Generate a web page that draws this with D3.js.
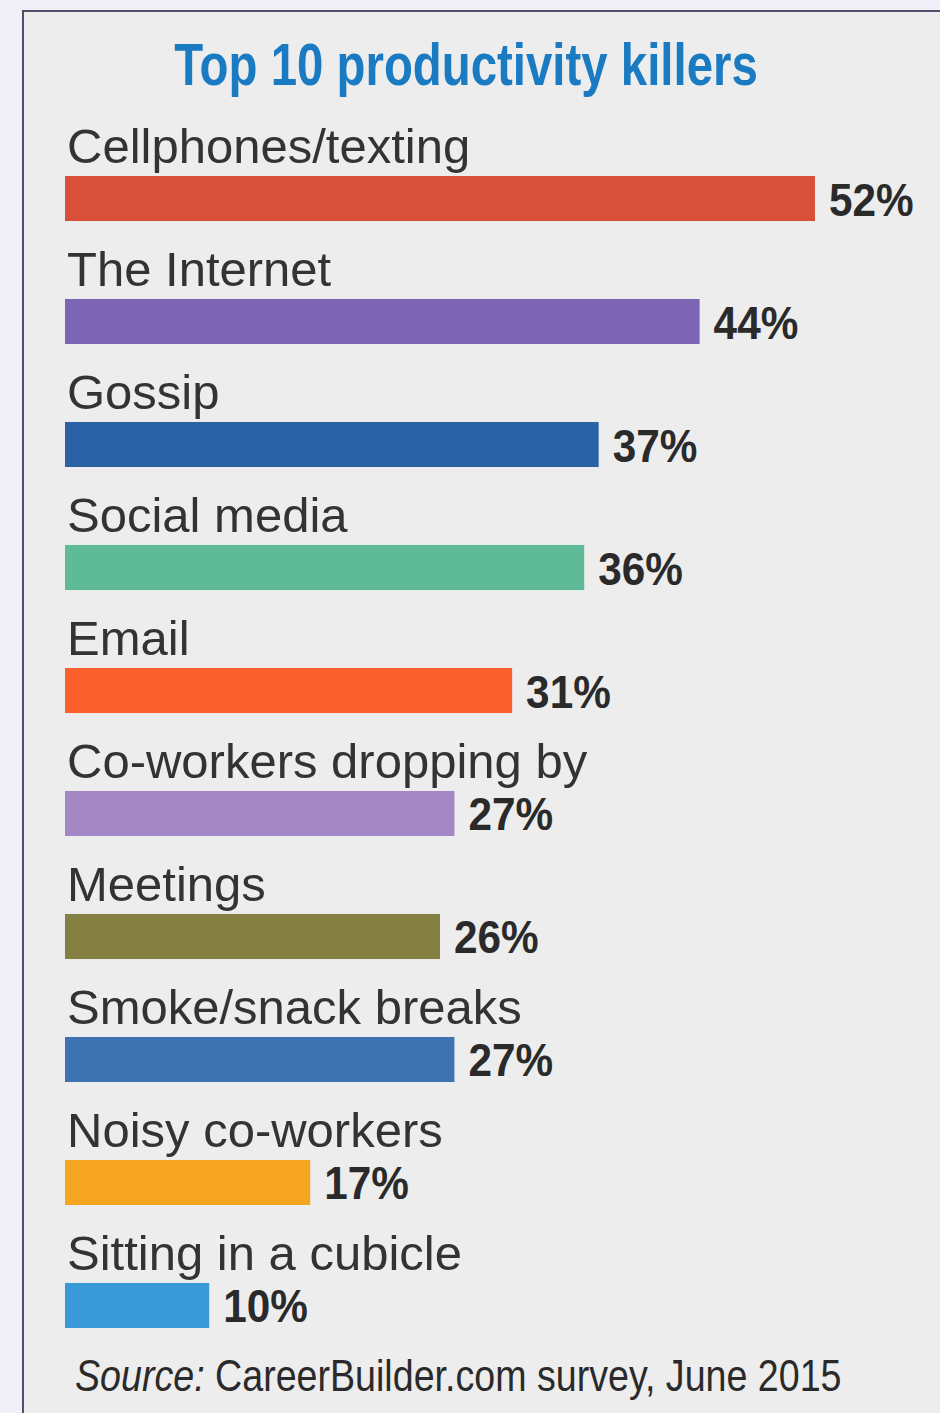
<!DOCTYPE html>
<html>
<head>
<meta charset="utf-8">
<script src="https://cdn.jsdelivr.net/npm/d3@7"></script>
<style>
  body { margin: 0; background: #f1f0f8; }
  svg { display: block; }
</style>
</head>
<body>
<svg id="chart"></svg>
<script>
const categories = ["Cellphones/texting", "The Internet", "Gossip", "Social media", "Email",
  "Co-workers dropping by", "Meetings", "Smoke/snack breaks", "Noisy co-workers", "Sitting in a cubicle"]
const values = [52, 44, 37, 36, 31, 27, 26, 27, 17, 10]
const colors = ["#d8503a", "#7d65b6", "#2b62a6", "#5fba98", "#fa5f2c",
  "#a488c6", "#847f42", "#3e72b0", "#f6a523", "#3a9ad8"]

const width = 940, height = 1413
const font = "'Liberation Sans', Arial, sans-serif"
const svg = d3.select("#chart").attr("width", width).attr("height", height)

// panel
svg.append("rect")
  .attr("x", 23).attr("y", 11)
  .attr("width", 960).attr("height", 1440)
  .attr("fill", "#ededed")
  .attr("stroke", "#50506a")
  .attr("stroke-width", 2)

// title (condensed look by squeezing horizontally)
svg.append("text")
  .attr("transform", "translate(466,85) scale(0.79,1)")
  .attr("text-anchor", "middle")
  .style("font-family", font)
  .style("font-weight", "bold")
  .style("font-size", "60px")
  .attr("fill", "#1a7bc3")
  .text("Top 10 productivity killers")

let x = d3.scaleLinear().domain([0, 52]).range([65, 815])
let y = d3.scaleBand().domain(categories).range([176, 1328]).paddingInner(0.634).paddingOuter(0)

const rows = svg.selectAll("g.row")
  .data(categories.map((c, i) => ({ label: c, value: values[i], color: colors[i] })))
  .enter().append("g").classed("row", true)

rows.append("rect")
  .attr("x", x(0))
  .attr("y", d => y(d.label))
  .attr("width", d => x(d.value) - x(0))
  .attr("height", y.bandwidth())
  .attr("fill", d => d.color)

// category labels above bars
rows.append("text")
  .attr("x", x(0) + 2)
  .attr("y", d => y(d.label) - 13)
  .style("font-family", font)
  .style("font-size", "49px")
  .attr("fill", "#333")
  .text(d => d.label)

// value labels
rows.append("text")
  .attr("transform", d => "translate(" + [x(d.value) + 14, y(d.label) + y.bandwidth() / 2 + 17] + ") scale(0.9,1)")
  .style("font-family", font)
  .style("font-weight", "bold")
  .style("font-size", "47px")
  .attr("fill", "#2a2a2a")
  .text(d => d.value + "%")

// source
const src = svg.append("text")
  .attr("transform", "translate(75,1391) scale(0.855,1)")
  .style("font-family", font)
  .style("font-size", "44px")
  .attr("fill", "#2a2a2a")
src.append("tspan").style("font-style", "italic").text("Source:")
src.append("tspan").text(" CareerBuilder.com survey, June 2015")
</script>
</body>
</html>
